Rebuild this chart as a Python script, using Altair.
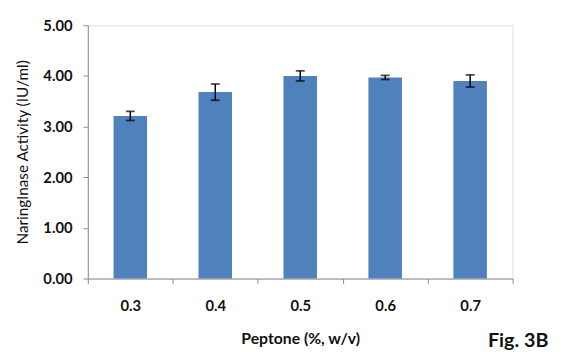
import altair as alt
import pandas as pd

categories = ["0.3", "0.4", "0.5", "0.6", "0.7"]
activity = [3.21, 3.68, 4.00, 3.97, 3.90]
err = [0.09, 0.16, 0.10, 0.04, 0.12]

df = pd.DataFrame({"cat": categories, "val": activity, "err": err})
df["lo"] = df["val"] - df["err"]
df["hi"] = df["val"] + df["err"]

FONT = "Lato"

x = alt.X("cat:N", sort=categories, scale=alt.Scale(paddingInner=0, paddingOuter=0),
          axis=alt.Axis(title="Peptone (%, w/v)", labelAngle=0, tickBand="extent",
                        labelFontWeight="bold", labelFontSize=15, labelPadding=15,
                        titleFontWeight="bold", titleFontSize=16, titlePadding=18,
                        tickSize=5, domainColor="#8c8c8c", tickColor="#8c8c8c",
                        labelColor="#111", titleColor="#111", labelFont=FONT, titleFont=FONT))

base = alt.Chart(df)

bars = base.mark_bar(size=34, color="#4F81BD").encode(
    x=x,
    y=alt.Y("val:Q", scale=alt.Scale(domain=[0, 5]),
            axis=alt.Axis(title="NaringInase Activity (IU/ml)", values=[0, 1, 2, 3, 4, 5],
                          format=".2f", grid=False, tickSize=5, labelPadding=11,
                          labelFontWeight="bold", labelFontSize=15, labelFont=FONT,
                          titleFontWeight="normal", titleFontSize=15.5, titleFont=FONT,
                          titlePadding=13, domainColor="#8c8c8c", tickColor="#8c8c8c",
                          labelColor="#111", titleColor="#111")),
)

rule = base.mark_rule(color="black", strokeWidth=1.5).encode(
    x=alt.X("cat:N", sort=categories), y="lo:Q", y2="hi:Q")
cap_lo = base.mark_tick(color="black", size=9, thickness=1.8).encode(
    x=alt.X("cat:N", sort=categories), y="lo:Q")
cap_hi = base.mark_tick(color="black", size=9, thickness=1.8).encode(
    x=alt.X("cat:N", sort=categories), y="hi:Q")

fig = alt.Chart(pd.DataFrame({"t": ["Fig. 3B"]})).mark_text(
    align="left", baseline="middle", font=FONT, fontSize=20, fontWeight="bold", color="#111"
).encode(text="t:N", x=alt.value(406), y=alt.value(320))

chart = alt.layer(bars, rule, cap_lo, cap_hi, fig).properties(
    width=431, height=257,
    autosize=alt.AutoSizeParams(type="none"),
    padding={"left": 81, "top": 15, "right": 43, "bottom": 70},
).configure_view(stroke=None).configure(background="white")

chart.save("out.html", embed_options={"renderer": "svg", "actions": False})
